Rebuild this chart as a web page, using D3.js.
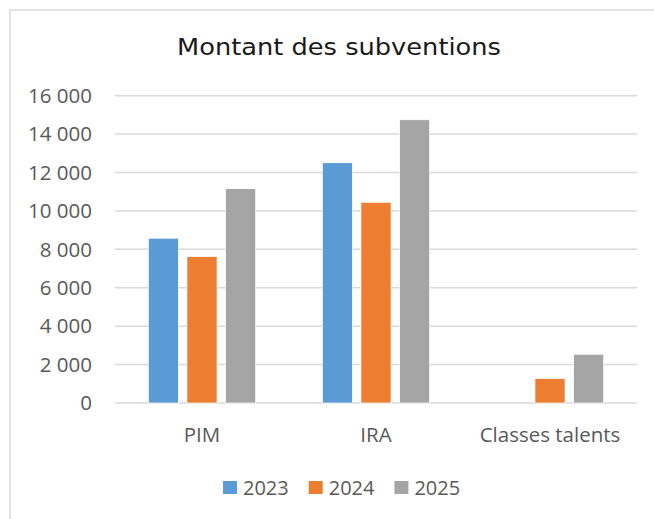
<!DOCTYPE html>
<html>
<head>
<meta charset="utf-8">
<script src="https://cdn.jsdelivr.net/npm/d3@7"></script>
<style>
  body { margin: 0; background: #fff; }
  svg { display: block; }
</style>
</head>
<body>
<div id="chart"></div>
<script>
// data
const categories = ['PIM', 'IRA', 'Classes talents'];
const years = ['2023', '2024', '2025'];
const values2023 = [8580, 12510, null];
const values2024 = [7620, 10450, 1270];
const values2025 = [11160, 14750, 2540];
const yTicks = [0, 2000, 4000, 6000, 8000, 10000, 12000, 14000, 16000];
const colors = ['#5B9BD5', '#ED7D31', '#A5A5A5'];

const W = 654, H = 519;
const margin = { top: 95.7, right: 17, bottom: 116, left: 115 };

const svg = d3.select('#chart')
  .append('svg')
    .attr('width', W)
    .attr('height', H);

// chart frame (runs off the right and bottom edges)
svg.append('rect')
  .attr('x', 10).attr('y', 10)
  .attr('width', 800).attr('height', 700)
  .attr('fill', 'none')
  .attr('stroke', '#d9d9d9')
  .attr('stroke-width', 1.5);

svg.append('text')
  .attr('x', 339)
  .attr('y', 54.5)
  .attr('text-anchor', 'middle')
  .attr('textLength', 324)
  .attr('lengthAdjust', 'spacingAndGlyphs')
  .style('font-family', 'DejaVu Sans, sans-serif')
  .style('font-size', '22.5px')
  .style('fill', '#1a1a1a')
  .text('Montant des subventions');

const x0 = d3.scaleBand()
  .domain(categories)
  .range([margin.left, W - margin.right])
  .paddingInner(0.383)
  .paddingOuter(0.1915);

const x1 = d3.scaleBand()
  .domain(years)
  .range([0, x0.bandwidth()])
  .paddingInner(0.22);

const y = d3.scaleLinear()
  .domain([0, 16000])
  .range([H - margin.bottom, margin.top]);

const fmt = v => d3.format(',')(v).replace(/,/g, ' ');

// gridlines
svg.append('g')
  .selectAll('line')
  .data(yTicks)
  .join('line')
    .attr('x1', margin.left)
    .attr('x2', W - margin.right)
    .attr('y1', d => y(d))
    .attr('y2', d => y(d))
    .attr('stroke', '#d9d9d9')
    .attr('stroke-width', 1.5);

// y labels
svg.append('g')
  .selectAll('text')
  .data(yTicks)
  .join('text')
    .attr('x', 92)
    .attr('y', d => y(d))
    .attr('dy', '0.35em')
    .attr('text-anchor', 'end')
    .style('font-family', 'Open Sans, sans-serif')
    .style('font-size', '20.5px')
    .style('fill', '#595959')
    .text(d => fmt(d));

const series = [values2023, values2024, values2025];

// bars
svg.append('g')
  .selectAll('g')
  .data(categories)
  .join('g')
    .attr('transform', d => `translate(${x0(d)},0)`)
  .selectAll('rect')
  .data((d, i) => years.map((yr, j) => ({ yr, v: series[j][i], c: colors[j] })).filter(e => e.v != null))
  .join('rect')
    .attr('x', d => x1(d.yr))
    .attr('width', x1.bandwidth())
    .attr('y', d => y(d.v))
    .attr('height', d => y(0) - y(d.v))
    .attr('fill', d => d.c)
    .attr('stroke', '#fff')
    .attr('stroke-width', 0.75);

// category labels
svg.append('g')
  .selectAll('text')
  .data(categories)
  .join('text')
    .attr('x', d => x0(d) + x0.bandwidth() / 2)
    .attr('y', 442)
    .attr('text-anchor', 'middle')
    .style('font-family', 'Open Sans, sans-serif')
    .style('font-size', '20.5px')
    .style('fill', '#595959')
    .text(d => d);

// legend
const legend = svg.append('g')
  .selectAll('g')
  .data(years)
  .join('g')
    .attr('transform', (d, i) => `translate(${223 + i * 85.7},481)`);

legend.append('rect')
  .attr('width', 14)
  .attr('height', 13)
  .attr('fill', (d, i) => colors[i]);

legend.append('text')
  .attr('x', 20)
  .attr('y', 14)
  .style('font-family', 'Open Sans, sans-serif')
  .style('font-size', '20px')
  .style('fill', '#595959')
  .text(d => d);
</script>
</body>
</html>
